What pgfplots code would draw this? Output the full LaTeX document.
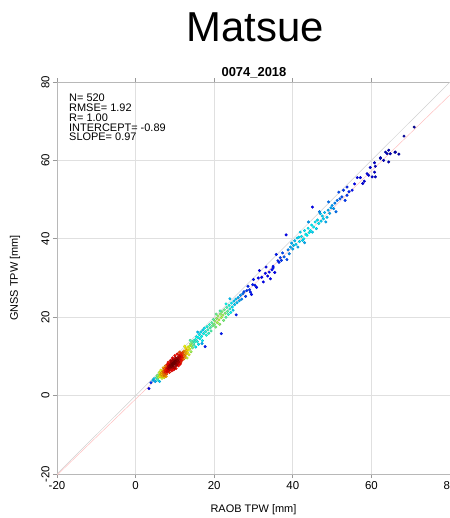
\documentclass[border=0pt]{standalone}
\usepackage{fontspec}
\setmainfont{Liberation Sans}
\usepackage{pgfplots}
\pgfplotsset{compat=1.18}
\usepackage{pgfplotstable}

\pgfplotstableread{
x y c
3.4 1.8 0.10
3.9 3.3 0.18
4.4 3.9 0.30
4.7 4.3 0.33
5.0 3.6 0.30
5.3 4.6 0.45
5.6 4.0 0.42
5.9 5.2 0.55
6.1 3.6 0.33
5.5 5.1 0.50
5.8 4.6 0.55
6.2 4.9 0.62
6.0 5.9 0.58
6.3 5.4 0.66
6.5 4.8 0.65
6.6 5.9 0.70
6.8 5.2 0.72
6.9 6.3 0.74
7.0 5.6 0.76
7.1 4.9 0.70
7.2 6.1 0.79
7.3 6.8 0.78
7.4 5.4 0.78
7.5 6.4 0.82
7.6 5.9 0.84
7.7 7.0 0.84
7.8 6.2 0.86
7.9 5.5 0.80
8.0 6.7 0.88
8.0 7.5 0.86
6.4 6.5 0.62
6.7 4.4 0.58
7.0 7.1 0.70
7.3 4.6 0.65
7.6 7.6 0.76
7.8 4.9 0.70
6.9 5.0 0.70
7.2 5.3 0.76
7.5 5.0 0.74
7.4 6.9 0.78
7.9 6.8 0.87
7.7 6.5 0.86
6.6 5.4 0.70
8.1 6.1 0.88
8.2 7.0 0.92
8.3 6.4 0.90
8.4 7.6 0.92
8.5 6.9 0.95
8.6 8.1 0.90
8.7 7.3 0.96
8.8 6.6 0.92
8.9 7.9 0.96
9.0 7.2 0.98
9.1 8.4 0.94
9.2 7.7 0.99
9.3 6.9 0.94
9.4 8.2 1.00
9.5 7.5 0.99
9.6 8.8 0.95
9.7 8.0 1.00
9.8 7.2 0.95
9.9 8.6 1.00
10.0 9.3 0.95
10.1 8.1 1.00
10.2 8.9 0.99
10.3 7.6 0.94
10.4 9.5 0.96
10.5 8.5 0.99
10.6 9.1 0.98
10.7 7.9 0.92
10.8 9.8 0.93
10.9 8.8 0.97
11.0 9.4 0.96
11.1 10.3 0.90
11.2 8.6 0.93
11.3 9.9 0.93
11.4 9.2 0.92
11.5 10.6 0.86
11.6 9.6 0.90
11.7 8.9 0.86
11.8 10.2 0.87
11.9 11.0 0.82
12.0 9.7 0.85
8.3 8.5 0.86
8.6 5.9 0.84
8.9 9.0 0.88
9.2 6.3 0.88
9.4 9.6 0.88
9.7 6.6 0.88
10.0 10.2 0.86
10.3 6.9 0.86
10.6 10.6 0.86
10.9 7.6 0.86
11.2 11.1 0.80
11.5 8.4 0.84
8.5 7.4 0.96
8.8 7.7 0.97
9.1 7.5 0.99
9.3 8.0 1.00
9.6 7.8 1.00
9.8 8.3 1.00
10.1 8.7 1.00
10.4 8.4 0.99
10.7 8.9 0.98
11.0 8.5 0.95
9.0 8.7 0.96
9.5 9.1 0.96
10.2 9.6 0.95
10.5 7.8 0.96
10.8 8.3 0.95
9.9 7.0 0.94
11.3 8.0 0.88
11.8 9.4 0.86
12.1 10.6 0.80
8.1 8.0 0.88
12.2 9.3 0.78
12.3 11.4 0.74
12.4 10.2 0.76
12.6 11.0 0.72
12.7 9.8 0.72
12.8 12.0 0.66
12.9 10.6 0.70
13.0 11.5 0.68
13.2 10.9 0.66
13.3 12.4 0.62
13.4 11.6 0.64
13.6 10.4 0.60
13.7 12.6 0.58
13.8 11.9 0.60
14.0 13.2 0.52
14.1 11.2 0.54
14.2 12.7 0.55
14.4 13.6 0.48
14.5 12.2 0.50
14.7 14.0 0.44
14.8 12.9 0.46
15.0 13.6 0.42
12.5 12.6 0.62
13.1 9.6 0.58
13.9 14.1 0.45
15.2 14.3 0.40
15.3 12.4 0.36
15.5 15.0 0.38
15.7 13.8 0.40
15.9 14.8 0.38
16.0 13.1 0.36
16.2 15.6 0.37
16.4 14.5 0.38
16.6 16.2 0.35
16.8 15.1 0.38
17.0 14.0 0.36
17.1 16.7 0.34
17.3 15.8 0.38
17.5 17.2 0.36
17.7 12.5 0.15
17.8 16.3 0.40
18.0 15.4 0.40
18.2 17.6 0.40
18.4 16.8 0.42
18.6 15.9 0.42
18.8 18.1 0.42
19.0 17.3 0.45
19.2 16.5 0.45
19.4 18.6 0.46
19.6 17.8 0.48
19.8 19.4 0.46
20.0 18.2 0.50
15.8 16.2 0.32
16.9 13.3 0.30
20.2 19.0 0.52
20.4 17.5 0.50
20.6 19.7 0.52
20.8 18.6 0.55
21.0 20.3 0.53
21.2 19.3 0.56
21.4 18.2 0.52
21.6 20.8 0.52
21.8 15.8 0.15
21.8 19.9 0.55
22.0 21.4 0.50
22.2 20.5 0.54
22.4 19.2 0.50
22.6 21.9 0.48
22.8 21.0 0.50
23.0 20.0 0.46
23.2 22.5 0.44
23.4 21.5 0.46
23.6 20.7 0.42
23.8 23.0 0.40
24.0 22.1 0.40
24.2 21.2 0.38
24.4 23.6 0.36
24.6 22.6 0.36
24.8 21.8 0.34
25.0 24.1 0.33
25.2 23.2 0.33
25.6 20.6 0.15
25.5 24.6 0.32
25.8 23.7 0.32
26.1 25.0 0.30
26.4 24.2 0.30
26.7 25.6 0.28
27.0 24.6 0.26
27.3 26.0 0.24
20.5 20.8 0.48
21.5 21.6 0.45
23.0 23.4 0.38
24.0 24.7 0.32
27.6 26.5 0.20
28.0 25.3 0.18
28.3 26.8 0.18
28.6 27.9 0.16
29.0 27.0 0.17
29.2 26.4 0.15
29.5 25.8 0.14
29.8 28.3 0.15
30.0 29.6 0.14
30.4 28.1 0.14
30.8 27.6 0.13
31.2 30.0 0.13
31.5 31.9 0.12
32.1 30.2 0.13
32.5 29.0 0.12
33.0 31.2 0.13
33.2 32.8 0.12
33.6 30.5 0.12
34.0 31.5 0.13
34.3 29.8 0.12
34.7 32.1 0.13
35.0 33.0 0.14
35.0 32.6 0.14
35.4 31.4 0.12
35.8 36.0 0.15
36.2 34.4 0.16
36.5 34.0 0.16
36.8 35.2 0.18
37.1 34.5 0.18
37.4 36.4 0.20
37.8 35.4 0.22
38.3 41.0 0.12
38.5 34.7 0.20
38.8 37.2 0.26
39.1 36.2 0.26
39.4 37.9 0.30
39.7 38.9 0.30
40.0 37.4 0.30
40.2 38.3 0.32
40.5 39.5 0.32
40.8 38.6 0.34
41.1 40.2 0.34
41.3 37.9 0.30
41.5 40.4 0.35
41.7 39.3 0.35
41.9 41.7 0.34
42.2 40.6 0.36
42.5 39.6 0.34
42.8 40.0 0.36
43.0 42.1 0.36
43.3 41.2 0.37
43.6 40.9 0.37
43.9 42.7 0.36
44.2 41.6 0.37
44.5 42.1 0.37
44.8 43.5 0.36
45.0 48.1 0.12
45.0 41.7 0.34
45.3 43.0 0.37
45.7 44.3 0.36
46.0 42.6 0.34
46.3 44.8 0.35
46.6 43.9 0.36
47.0 46.4 0.32
47.2 44.5 0.34
47.5 45.8 0.34
47.8 45.1 0.34
48.1 46.7 0.32
48.4 44.3 0.30
48.7 45.5 0.32
49.0 47.3 0.30
49.1 49.4 0.24
49.4 46.5 0.30
49.7 47.9 0.30
50.0 48.5 0.28
50.4 47.7 0.28
50.7 49.1 0.26
51.0 46.9 0.24
51.3 49.8 0.24
51.7 51.9 0.20
52.0 50.2 0.22
52.5 50.7 0.20
52.9 52.4 0.18
53.3 49.8 0.18
53.8 51.1 0.18
53.8 53.2 0.16
54.3 52.0 0.16
55.1 52.4 0.14
43.0 39.0 0.30
46.8 46.9 0.26
44.0 44.3 0.28
55.7 54.0 0.12
56.4 55.6 0.11
57.2 55.6 0.11
57.8 54.1 0.10
58.2 54.7 0.10
58.9 56.6 0.10
59.3 56.2 0.10
59.7 58.2 0.09
60.2 55.8 0.09
60.8 57.0 0.08
60.8 59.4 0.08
61.0 58.5 0.08
61.0 55.8 0.08
62.3 60.7 0.07
62.3 60.5 0.07
63.1 60.0 0.07
63.6 62.1 0.06
64.0 61.7 0.06
64.4 62.6 0.06
64.4 59.6 0.06
64.8 61.7 0.06
66.0 62.1 0.05
66.1 62.1 0.05
67.0 61.6 0.05
68.3 66.2 0.04
70.9 68.5 0.03
}\pts

\begin{document}
\begin{tikzpicture}
\begin{axis}[
  at={(57bp,44bp)}, anchor=south west,
  width=393bp, height=392bp, scale only axis,
  xmin=-20, xmax=80, ymin=-20, ymax=80,
  xtick={-20,0,20,40,60,80}, ytick={-20,0,20,40,60,80},
  grid=major,
  major grid style={draw=black!12, line width=0.8pt},
  axis line style={draw=black!28, line width=1pt},
  tick align=outside, major tick length=4bp,
  tick style={draw=black!40, line width=0.8pt},
  ticklabel style={font=\fontsize{11.5}{12}\selectfont},
  /pgf/number format/assume math mode=true,
  yticklabel style={rotate=90, anchor=south},
  xlabel={RAOB TPW [mm]}, ylabel={GNSS TPW [mm]},
  every axis x label/.style={at={(axis description cs:0.5,0)}, yshift=-38bp, anchor=base, font=\fontsize{11}{12}\selectfont},
  every axis y label/.style={at={(axis description cs:0,0.5)}, xshift=-42bp, rotate=90, anchor=center, font=\fontsize{11}{12}\selectfont},
  colormap={jetc}{rgb255(0cm)=(0,0,128) rgb255(1cm)=(0,0,255) rgb255(3cm)=(0,255,255) rgb255(5cm)=(255,255,0) rgb255(7cm)=(255,0,0) rgb255(8cm)=(128,0,0)},
  point meta min=0, point meta max=1,
]
\addplot[draw=black!18, line width=0.5pt] coordinates {(-20,-20) (80,80)};
\addplot[draw=red!25, line width=0.5pt] coordinates {(-20,-20.29) (80,76.71)};
\addplot[scatter, only marks, mark=*, mark size=1.3pt, scatter src=explicit]
  table[x=x, y=y, meta=c] {\pts};
\end{axis}
\node[anchor=base, font=\fontsize{42}{42}\selectfont] at (255bp,476bp) {Matsue};
\node[anchor=base, font=\bfseries\fontsize{13}{13}\selectfont] at (254bp,441bp) {0074\_2018};
\node[anchor=north west, align=left, inner sep=0pt, font=\fontsize{11}{9.8}\selectfont] at (69bp,424bp)
  {N= 520\\RMSE= 1.92\\R= 1.00\\INTERCEPT= -0.89\\SLOPE= 0.97};
\pgfresetboundingbox
\path (0bp,0bp) rectangle (450bp,518bp);
\end{tikzpicture}
\end{document}
